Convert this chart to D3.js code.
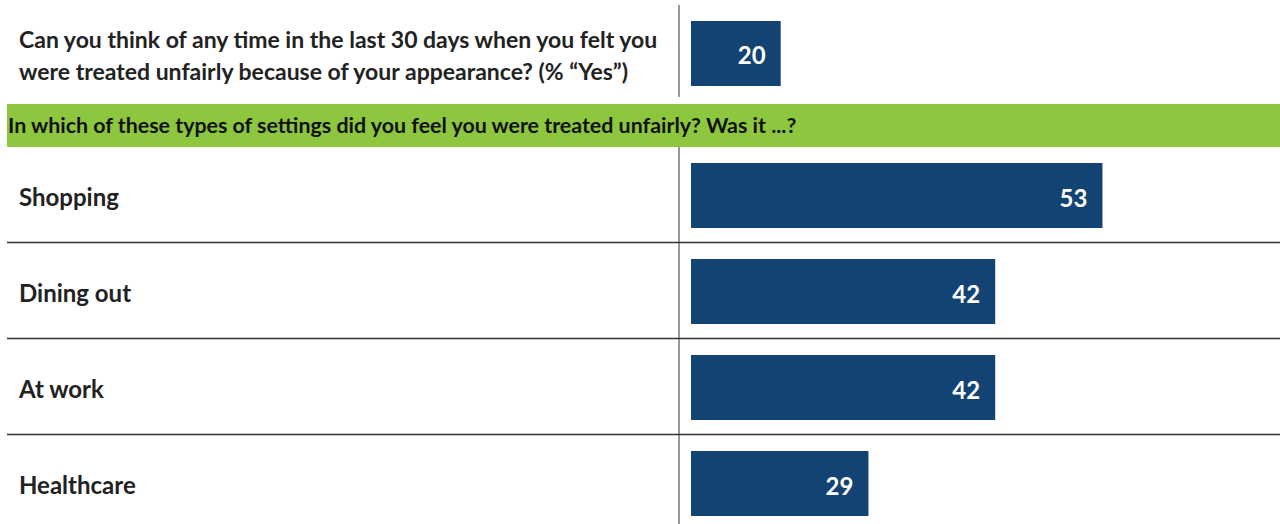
<!DOCTYPE html>
<html>
<head>
<meta charset="utf-8">
<script src="https://cdn.jsdelivr.net/npm/d3@7"></script>
<style>
  body { margin:0; background:#fff; }
  text { font-family: Lato, "Open Sans", sans-serif; font-weight:bold; }
</style>
</head>
<body>
<svg id="chart" width="1280" height="524"></svg>
<script>
var topQuestion = ["Can you think of any time in the last 30 days when you felt you",
                   "were treated unfairly because of your appearance? (% \u201cYes\u201d)"];
var topValue = 20;
var bandText = "In which of these types of settings did you feel you were treated unfairly? Was it ...?";
var settings = ["Shopping", "Dining out", "At work", "Healthcare"];
var settingValues = [53, 42, 42, 29];

var W = 1280, H = 524;
var barX0 = 691, divX = 679;
var barColor = "#124373";

var svg = d3.select("#chart");

// value scale (bars in the picture do not start at zero)
var x = d3.scaleLinear()
    .domain([10.8, 60])
    .range([0, 9.75 * 49.2]);

// top block
var topY = d3.scaleBand().domain(["q"]).range([21, 86]);

svg.append("line")
    .attr("x1", divX).attr("x2", divX)
    .attr("y1", 5).attr("y2", 97)
    .attr("stroke", "#999").attr("stroke-width", 2);

svg.selectAll("text.q")
    .data(topQuestion)
    .enter().append("text")
    .attr("class", "q")
    .attr("x", 19)
    .attr("y", function(d, i){ return 48 + i * 32; })
    .attr("font-size", "23px")
    .attr("fill", "#222")
    .text(function(d){ return d; });

svg.append("rect")
    .attr("x", barX0)
    .attr("y", topY("q"))
    .attr("width", x(topValue))
    .attr("height", topY.bandwidth())
    .attr("fill", barColor);

svg.append("text")
    .attr("x", barX0 + x(topValue) - 15)
    .attr("y", topY("q") + topY.bandwidth() / 2 + 2)
    .attr("dy", "0.36em")
    .attr("text-anchor", "end")
    .attr("font-size", "24px")
    .attr("fill", "#fff")
    .text(topValue);

// green band
svg.append("rect")
    .attr("x", 7).attr("y", 104)
    .attr("width", W - 7).attr("height", 43)
    .attr("fill", "#8dc63f");

svg.append("text")
    .attr("x", 8)
    .attr("y", 125.5)
    .attr("dy", "0.36em")
    .attr("font-size", "21.4px")
    .attr("fill", "#111")
    .text(bandText);

// settings rows
var y = d3.scaleBand()
    .domain(settings)
    .range([147, 147 + 4 * 96]);

svg.append("line")
    .attr("x1", divX).attr("x2", divX)
    .attr("y1", 147).attr("y2", H)
    .attr("stroke", "#999").attr("stroke-width", 2);

svg.selectAll("line.sep")
    .data(settings.slice(1))
    .enter().append("line")
    .attr("class", "sep")
    .attr("x1", 7).attr("x2", W)
    .attr("y1", function(d){ return y(d) - 0.5; })
    .attr("y2", function(d){ return y(d) - 0.5; })
    .attr("stroke", "#333").attr("stroke-width", 1.5);

var rows = svg.selectAll("g.row")
    .data(settings)
    .enter().append("g")
    .attr("class", "row")
    .attr("transform", function(d){ return "translate(0," + y(d) + ")"; });

rows.append("text")
    .attr("x", 19)
    .attr("y", 50)
    .attr("dy", "0.36em")
    .attr("font-size", "24px")
    .attr("fill", "#222")
    .text(function(d){ return d; });

rows.append("rect")
    .attr("x", barX0)
    .attr("y", 16)
    .attr("width", function(d, i){ return x(settingValues[i]); })
    .attr("height", 65)
    .attr("fill", barColor);

rows.append("text")
    .attr("x", function(d, i){ return barX0 + x(settingValues[i]) - 15; })
    .attr("y", 51)
    .attr("dy", "0.36em")
    .attr("text-anchor", "end")
    .attr("font-size", "24px")
    .attr("fill", "#fff")
    .text(function(d, i){ return settingValues[i]; });
</script>
</body>
</html>
